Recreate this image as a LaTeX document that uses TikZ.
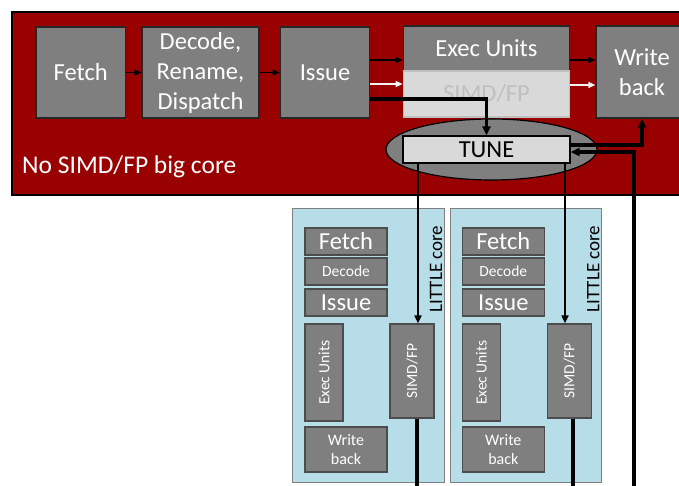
\documentclass[tikz,border=0pt]{standalone}
\usepackage{fontspec}
\setmainfont{Carlito}
\usetikzlibrary{arrows.meta,shapes.geometric}
\definecolor{bigred}{HTML}{990000}
\definecolor{unitgray}{HTML}{7F7F7F}
\definecolor{tunegray}{HTML}{D9D9D9}
\definecolor{littleblue}{HTML}{B7DDE8}

\begin{document}
\begin{tikzpicture}[x=1pt, y=-1pt,
	unit/.style={draw=black!85, line width=1.2pt, fill=unitgray, text=white, align=center,
		inner sep=0pt, font=\fontsize{24.5}{30}\selectfont},
	smallunit/.style={unit, draw=black!70, font=\fontsize{16}{19}\selectfont},
	arr/.style={-{Triangle[length=7pt,width=6pt]}, line width=1.2pt},
	thickarr/.style={-{Triangle[length=9pt,width=8pt]}, line width=3.2pt},
	linkarr/.style={-{Triangle[length=8pt,width=7pt]}, line width=1.8pt},
	]
	\useasboundingbox (0,0) rectangle (679,486);

	% big core
	\draw[line width=1.2pt, fill=bigred] (12,12) rectangle (700,195);
	\node[anchor=base west, text=white, inner sep=0pt, font=\fontsize{25.5}{30}\selectfont] (bigname) at (22,174) {No SIMD/FP big core};
	\node[unit, minimum width=89.5pt, minimum height=91pt] (fetch) at (80.7,72.5) {Fetch};
	\node[unit, minimum width=117pt, minimum height=91pt] (decode) at (200.5,72.5) {Decode,\\Rename,\\Dispatch};
	\node[unit, minimum width=89.5pt, minimum height=91pt] (issue) at (325,72.5) {Issue};
	\node[unit, minimum width=166.5pt, minimum height=45pt] (exec) at (486.5,48.5) {Exec Units};
	\node[unit, draw=black!25, fill=tunegray, text=black!25, minimum width=166.5pt, minimum height=46pt] (simd) at (486.5,94) {SIMD/FP};
	\node[unit, minimum width=92pt, minimum height=92pt] (wb) at (642,72) {Write\\back};
	\node[draw, ellipse, line width=1.2pt, fill=unitgray, minimum width=211pt, minimum height=61pt, inner sep=0pt] (tunering) at (491.5,149.5) {};
	\node[draw, line width=1.2pt, fill=tunegray, minimum width=167pt, minimum height=27pt, inner sep=0pt,
		font=\fontsize{24.5}{28}\selectfont] (tune) at (486.5,149.5) {TUNE};

	\draw[arr] (fetch) -- (decode);
	\draw[arr] (decode) -- (issue);
	\draw[arr] (issue.east |- 0,60) -- (exec.west |- 0,60);
	\draw[arr, white!95!black] (issue.east |- 0,84) -- (simd.west |- 0,84);
	\draw[arr] (exec.east |- 0,60) -- (wb.west |- 0,60);
	\draw[arr, white!95!black] (simd.east |- 0,85) -- (wb.west |- 0,85);
	\draw[thickarr] (issue.east |- 0,99) -| (tune.north);
	\draw[thickarr] ([yshift=4.5pt]tune.east) -| (wb.south);
	\coordinate (retin) at (634,486);
	\draw[thickarr] (retin) |- ([yshift=-2.5pt]tune.east);

	% LITTLE cores
	\foreach \i/\dx in {1/0, 2/157.3}{
		\begin{scope}[xshift=\dx pt]
		\draw[draw=unitgray, line width=1pt, fill=littleblue] (292.7,209) rectangle (444,482);
		\node[smallunit, font=\fontsize{24.5}{28}\selectfont, minimum width=82pt, minimum height=27pt] (lfetch\i) at (346,241.5) {Fetch};
		\node[smallunit, font=\fontsize{15.5}{18}\selectfont, minimum width=82pt, minimum height=27pt] (ldecode\i) at (346,271.5) {Decode};
		\node[smallunit, font=\fontsize{24.5}{28}\selectfont, minimum width=82pt, minimum height=27pt] (lissue\i) at (346,302.5) {Issue};
		\node[smallunit, font=\fontsize{15.5}{18}\selectfont, minimum width=38pt, minimum height=97pt] (lexec\i) at (324,372.5) {\rotatebox{90}{Exec Units}};
		\node[smallunit, font=\fontsize{15.5}{18}\selectfont, minimum width=44pt, minimum height=94pt] (lsimd\i) at (412,371) {\rotatebox{90}{SIMD/FP}};
		\node[smallunit, minimum width=82pt, minimum height=45pt] (lwb\i) at (346,449.5) {Write\\back};
		\node[rotate=90, inner sep=0pt, font=\fontsize{19}{22}\selectfont] (lname\i) at (436,269) {LITTLE core};
		\end{scope}
	}

	\draw[linkarr] (tune.south -| 418,0) -- (lsimd1.north -| 418,0);
	\draw[linkarr] (tune.south -| 565,0) -- (lsimd2.north -| 565,0);
	\coordinate (lout1) at (417,486);
	\coordinate (lout2) at (573,486);
	\draw[line width=3.2pt] (lsimd1.south -| lout1) -- (lout1);
	\draw[line width=3.2pt] (lsimd2.south -| lout2) -- (lout2);
\end{tikzpicture}
\end{document}
